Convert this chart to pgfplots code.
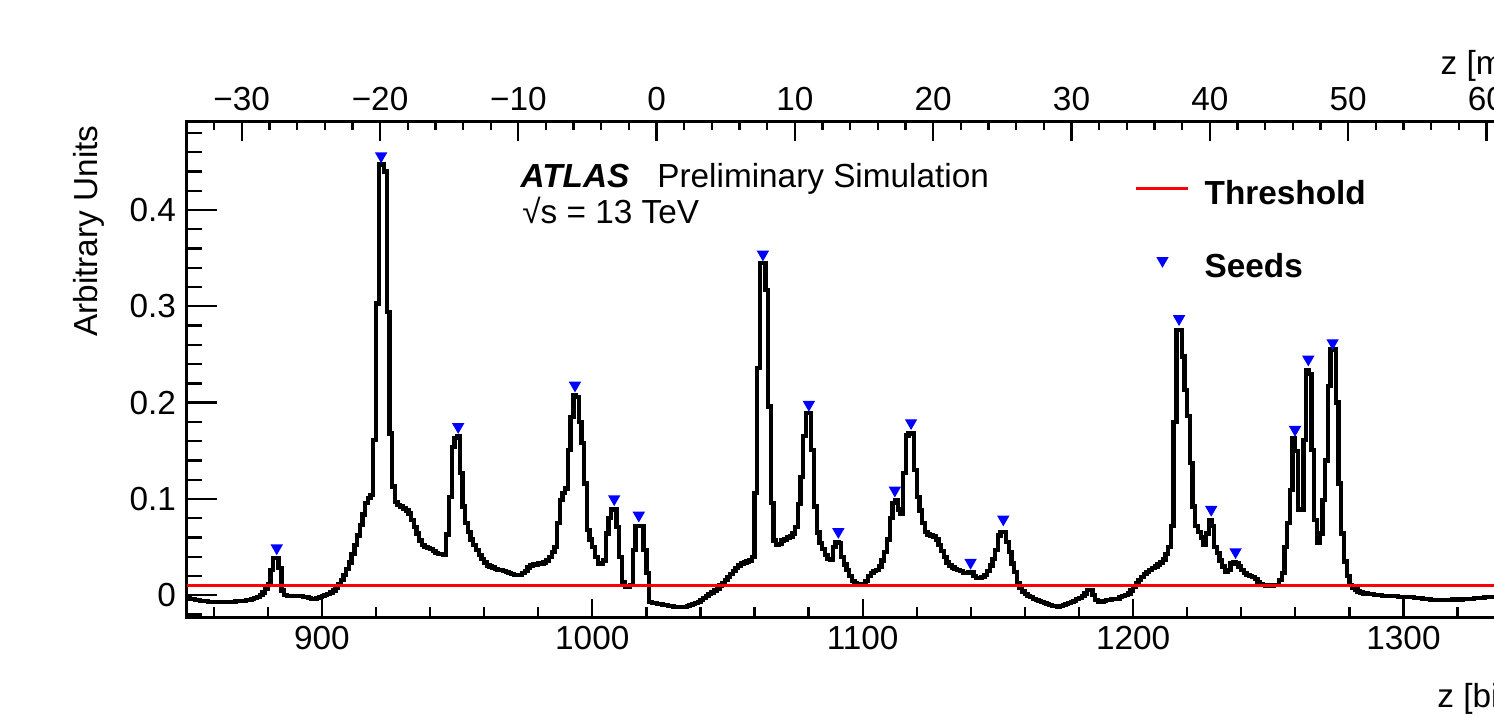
\documentclass[border=0pt]{standalone}
\usepackage{fontspec}
\setmainfont{Liberation Sans}
\usepackage{pgfplots}
\pgfplotsset{compat=1.18}

% 1 px of the reference = 0.3pt; axis box 1352 x 495.6 px
\pgfplotsset{
  frame/.style={
    scale only axis, width=405.6pt, height=148.68pt,
    xmin=850, xmax=1350, ymin=-0.02284, ymax=0.49164,
    tick align=inside,
    axis line style={line width=0.8pt},
    every tick/.style={line width=0.7pt, black},
    /pgf/number format/assume math mode=true,
    /pgf/number format/1000 sep={},
  },
  thr legend/.style={legend image code/.code={\draw[##1] (0pt,4.8pt) -- (15.6pt,4.8pt);}},
  seed legend/.style={legend image code/.code={\draw[##1] plot coordinates {(7.8pt,5.2pt)};}},
}

\begin{document}
\begin{tikzpicture}
\useasboundingbox (-56.01pt,-30.51pt) rectangle (392.19pt,185.19pt);
\begin{scope}
\clip (-56.01pt,-30.51pt) rectangle (392.19pt,185.19pt);

% y ticks (longer than the x ticks)
\begin{axis}[frame,
    axis x line=none, axis y line*=left, xtick=\empty,
    ytick={0,0.1,0.2,0.3,0.4},
    minor ytick={-0.02,0.02,0.04,0.06,0.08,0.12,0.14,0.16,0.18,0.22,0.24,0.26,0.28,0.32,0.34,0.36,0.38,0.42,0.44,0.46,0.48},
    major tick length=9.2pt, minor tick length=4.7pt,
    yticklabel style={inner sep=0pt, xshift=-3pt},
]
\end{axis}

% data, bottom axis in bins
\begin{axis}[frame,
    xtick={900,1000,1100,1200,1300},
    minor xtick={860,880,...,1340},
    xtick pos=left, ytick=\empty,
    major tick length=5.4pt, minor tick length=3pt,
    xticklabel style={inner sep=0pt, yshift=-2.6pt},
    legend style={at={(axis description cs:0.7014,0.88035)}, anchor=north west,
        draw=none, fill=none, inner sep=0pt, outer sep=0pt,
        column sep=4.4pt, row sep=14.7pt, font=\bfseries,
        cells={anchor=base west},
        nodes={inner sep=0pt, text height=7.2pt, text depth=0pt}},
]
\addplot[const plot, black, line width=1.3pt, forget plot] coordinates {
(850,-0.003)(851,-0.004)(852,-0.004)(853,-0.005)(854,-0.005)(855,-0.006)(856,-0.006)(857,-0.006)(858,-0.007)(859,-0.007)
(860,-0.007)(862,-0.007)(864,-0.007)(866,-0.007)(868,-0.006)(870,-0.006)(872,-0.005)(873,-0.005)(874,-0.004)(875,-0.003)
(876,-0.002)(877,0.000)(878,0.003)(879,0.007)(880,0.012)(881,0.026)(882,0.039)(883,0.039)(884,0.028)(885,0.005)
(886,0.000)(887,-0.001)(890,-0.001)(893,-0.002)(895,-0.003)(896,-0.004)(898,-0.003)(899,-0.002)(900,-0.001)(901,0.000)
(902,0.001)(903,0.003)(904,0.005)(905,0.008)(906,0.012)(907,0.016)(908,0.021)(909,0.027)(910,0.034)(911,0.043)
(912,0.052)(913,0.062)(914,0.073)(915,0.084)(916,0.096)(917,0.101)(918,0.104)(919,0.161)(920,0.303)(921,0.447)
(922,0.447)(923,0.440)(924,0.294)(925,0.168)(926,0.113)(927,0.097)(928,0.094)(929,0.092)(930,0.090)(931,0.088)
(932,0.085)(933,0.078)(934,0.071)(935,0.064)(936,0.057)(937,0.052)(938,0.050)(939,0.049)(940,0.048)(941,0.046)
(942,0.044)(943,0.043)(945,0.042)(946,0.063)(947,0.102)(948,0.154)(949,0.163)(950,0.165)(951,0.127)(952,0.092)
(953,0.075)(954,0.066)(955,0.058)(956,0.052)(957,0.047)(958,0.042)(959,0.038)(960,0.034)(961,0.031)(962,0.030)
(963,0.029)(964,0.027)(965,0.026)(967,0.025)(968,0.024)(969,0.023)(970,0.022)(971,0.021)(974,0.023)(975,0.025)
(976,0.029)(977,0.031)(978,0.032)(980,0.033)(982,0.034)(983,0.036)(984,0.040)(985,0.045)(986,0.050)(987,0.075)
(988,0.099)(989,0.106)(990,0.111)(991,0.151)(992,0.185)(993,0.208)(994,0.206)(995,0.180)(996,0.158)(997,0.116)
(998,0.068)(999,0.058)(1000,0.050)(1001,0.040)(1002,0.033)(1004,0.036)(1005,0.064)(1006,0.080)(1007,0.089)(1009,0.071)
(1010,0.040)(1011,0.014)(1012,0.009)(1014,0.011)(1015,0.047)(1016,0.072)(1019,0.047)(1020,0.023)(1021,-0.007)(1022,-0.008)
(1024,-0.009)(1026,-0.010)(1028,-0.011)(1030,-0.012)(1032,-0.0125)(1034,-0.012)(1035,-0.011)(1036,-0.010)(1037,-0.009)(1038,-0.008)
(1039,-0.007)(1040,-0.005)(1041,-0.003)(1042,-0.001)(1043,0.001)(1044,0.003)(1045,0.005)(1046,0.007)(1047,0.010)(1048,0.013)
(1049,0.016)(1050,0.019)(1051,0.022)(1052,0.025)(1053,0.028)(1054,0.031)(1055,0.033)(1056,0.034)(1057,0.035)(1058,0.036)
(1059,0.040)(1060,0.106)(1061,0.236)(1062,0.345)(1064,0.317)(1065,0.196)(1066,0.096)(1067,0.057)(1068,0.052)(1069,0.053)
(1070,0.057)(1071,0.058)(1072,0.060)(1073,0.061)(1074,0.064)(1075,0.071)(1076,0.095)(1077,0.123)(1078,0.165)(1079,0.189)
(1081,0.151)(1082,0.092)(1083,0.065)(1084,0.054)(1085,0.048)(1086,0.042)(1087,0.038)(1088,0.037)(1089,0.050)(1090,0.055)
(1091,0.054)(1092,0.040)(1093,0.032)(1094,0.026)(1095,0.020)(1096,0.015)(1097,0.013)(1098,0.012)(1101,0.015)(1102,0.020)
(1103,0.023)(1104,0.025)(1105,0.026)(1106,0.030)(1107,0.036)(1108,0.045)(1109,0.058)(1110,0.080)(1111,0.096)(1112,0.099)
(1113,0.089)(1114,0.085)(1115,0.127)(1116,0.166)(1117,0.168)(1119,0.130)(1120,0.102)(1121,0.088)(1122,0.075)(1123,0.066)
(1124,0.063)(1125,0.062)(1126,0.061)(1127,0.058)(1128,0.052)(1129,0.046)(1130,0.040)(1131,0.034)(1132,0.031)(1133,0.029)
(1134,0.027)(1135,0.026)(1136,0.025)(1137,0.023)(1139,0.0235)(1141,0.020)(1142,0.018)(1144,0.019)(1145,0.021)(1146,0.025)
(1147,0.031)(1148,0.038)(1149,0.047)(1150,0.062)(1151,0.066)(1153,0.055)(1154,0.045)(1155,0.033)(1156,0.024)(1157,0.013)
(1158,0.008)(1159,0.004)(1160,0.001)(1161,-0.001)(1162,-0.002)(1163,-0.004)(1164,-0.005)(1165,-0.006)(1166,-0.007)(1167,-0.008)
(1168,-0.009)(1169,-0.010)(1170,-0.011)(1172,-0.0115)(1173,-0.011)(1174,-0.010)(1175,-0.009)(1176,-0.008)(1177,-0.007)(1178,-0.006)
(1179,-0.004)(1180,-0.003)(1181,-0.001)(1182,0.002)(1183,0.0055)(1185,0.000)(1186,-0.005)(1187,-0.0066)(1189,-0.006)(1190,-0.005)
(1192,-0.004)(1195,-0.002)(1196,-0.001)(1197,0.000)(1198,0.002)(1199,0.005)(1200,0.009)(1201,0.013)(1202,0.016)(1203,0.019)
(1204,0.022)(1205,0.0245)(1206,0.026)(1207,0.028)(1208,0.030)(1209,0.032)(1210,0.034)(1211,0.037)(1212,0.043)(1213,0.050)
(1214,0.072)(1215,0.180)(1216,0.2755)(1218,0.248)(1219,0.213)(1220,0.186)(1221,0.137)(1222,0.092)(1223,0.072)(1224,0.066)
(1225,0.060)(1226,0.052)(1227,0.064)(1228,0.078)(1229,0.072)(1230,0.050)(1231,0.044)(1232,0.036)(1233,0.030)(1234,0.024)
(1235,0.026)(1236,0.033)(1237,0.034)(1238,0.033)(1239,0.030)(1240,0.026)(1241,0.023)(1242,0.021)(1243,0.020)(1244,0.019)
(1245,0.017)(1246,0.014)(1247,0.012)(1248,0.011)(1249,0.010)(1252,0.011)(1254,0.016)(1255,0.023)(1256,0.050)(1257,0.075)
(1258,0.109)(1259,0.163)(1260,0.150)(1261,0.089)(1263,0.161)(1264,0.234)(1265,0.230)(1266,0.151)(1267,0.078)(1268,0.054)
(1269,0.064)(1270,0.099)(1271,0.140)(1272,0.217)(1273,0.255)(1275,0.200)(1276,0.116)(1277,0.064)(1278,0.035)(1279,0.020)
(1280,0.011)(1281,0.008)(1282,0.006)(1283,0.004)(1284,0.003)(1285,0.002)(1287,0.001)(1289,0.000)(1292,-0.0005)(1295,-0.001)
(1298,-0.0015)(1301,-0.002)(1304,-0.003)(1307,-0.004)(1310,-0.005)(1318,-0.0045)(1322,-0.004)(1326,-0.003)(1330,-0.002)(1350,-0.002)
};
\addplot[red, line width=0.9pt, thr legend]
    coordinates {(850,0.01) (1350,0.01)};
\addlegendentry{Threshold}
\addplot[only marks, mark=triangle*, mark size=1.75pt, color=blue,
    mark options={rotate=180, fill=blue, draw=blue}, seed legend]
    coordinates {(883.3,0.049)(921.9,0.456)(950.4,0.175)(993.6,0.218)(1008.1,0.100)(1017.2,0.083)
    (1063.1,0.354)(1080.1,0.198)(1091.0,0.066)(1111.9,0.109)(1117.9,0.179)(1139.9,0.034)(1152.0,0.079)
    (1217.0,0.287)(1228.9,0.089)(1237.9,0.045)(1259.9,0.172)(1264.8,0.245)(1273.8,0.262)};
\addlegendentry{Seeds}
\end{axis}

% top axis in mm
\begin{axis}[frame,
    xmin=-33.98, xmax=63.78,
    axis x line*=top, axis y line=none, ytick=\empty,
    xtick={-30,-20,...,60},
    xticklabels={−30,−20,−10,0,10,20,30,40,50,60},
    minor xtick={-32,-30,...,62},
    major tick length=5.7pt, minor tick length=2.4pt,
    xticklabel style={inner sep=0pt, yshift=2.9pt},
]
\end{axis}

\node[anchor=base west, inner sep=0pt, font=\bfseries\itshape] at (100pt,128.8pt) {ATLAS};
\node[anchor=base west, inner sep=0pt] at (141pt,128.8pt) {Preliminary Simulation};
\node[anchor=base west, inner sep=0pt] at (100.5pt,118.2pt) {√s = 13 TeV};
\node[rotate=90, anchor=base east, inner sep=0pt] at (-26.9pt,147.7pt) {Arbitrary Units};
\node[anchor=base west, inner sep=0pt] at (376pt,162.7pt) {z [mm]};
\node[anchor=base west, inner sep=0pt] at (375pt,-27.2pt) {z [bin]};
\end{scope}
\end{tikzpicture}
\end{document}
